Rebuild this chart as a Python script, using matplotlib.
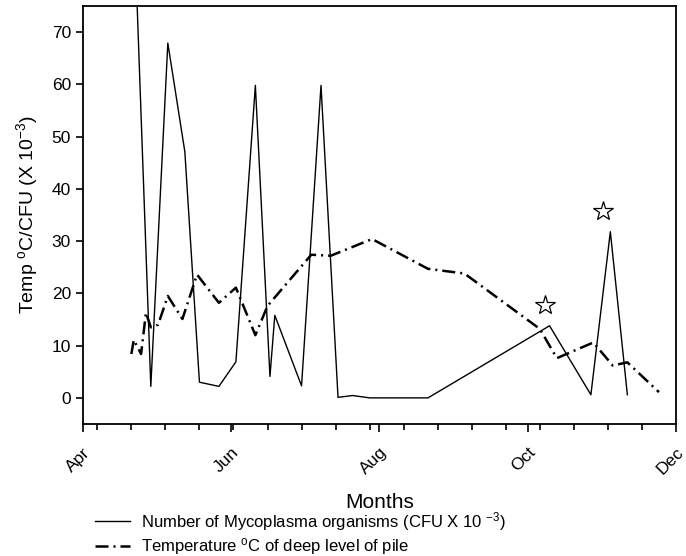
import matplotlib
matplotlib.use("Agg")
import matplotlib.pyplot as plt
import matplotlib.dates as mdates
from matplotlib.lines import Line2D
import pandas as pd

plt.rcParams["font.family"] = ["Liberation Sans", "DejaVu Sans"]
plt.rcParams["mathtext.default"] = "regular"

# Mycoplasma counts (CFU x 10^-3); first value runs off the top of the axis
myco_dates = ["1997-04-23", "1997-04-29", "1997-05-06", "1997-05-13", "1997-05-19",
              "1997-05-27", "1997-06-03", "1997-06-11", "1997-06-17", "1997-06-19",
              "1997-06-30", "1997-07-08", "1997-07-15", "1997-07-21", "1997-07-28",
              "1997-08-21", "1997-10-10", "1997-10-27", "1997-11-04", "1997-11-11"]
myco_vals = [80, 2.2, 67.9, 47.1, 3.0,
             2.2, 6.9, 59.8, 4.1, 15.8,
             2.3, 59.8, 0.1, 0.45, 0.0,
             0.0, 13.8, 0.6, 31.8, 0.6]

# temperature of deep level of pile (deg C)
temp_dates = ["1997-04-21", "1997-04-22", "1997-04-25", "1997-04-27", "1997-04-29",
              "1997-05-02", "1997-05-06", "1997-05-12", "1997-05-18", "1997-05-27",
              "1997-06-03", "1997-06-11", "1997-06-16", "1997-07-04", "1997-07-12",
              "1997-07-29", "1997-08-21", "1997-09-05", "1997-10-06", "1997-10-13",
              "1997-10-28", "1997-11-05", "1997-11-11", "1997-11-24"]
temp_vals = [8.4, 11.1, 8.4, 16.3, 13.5,
             14.0, 19.5, 15.1, 23.6, 18.2,
             21.1, 12.0, 17.6, 27.4, 27.2,
             30.4, 24.7, 23.8, 13.2, 7.6,
             10.6, 6.2, 6.8, 1.1]

star_dates = ["1997-10-08", "1997-11-01"]
star_vals = [17.7, 35.8]

myco_x = pd.to_datetime(myco_dates)
temp_x = pd.to_datetime(temp_dates)
star_x = pd.to_datetime(star_dates)

fig = plt.figure(figsize=(6.86, 5.56), dpi=100)
ax = fig.add_axes([0.1206, 0.2374, 0.8648, 0.7518])

ax.plot(myco_x, myco_vals, color="black", lw=1.0)
temp_line, = ax.plot(temp_x, temp_vals, color="black", lw=1.8)
temp_line.set_dashes((5.2, 2.0, 0.8, 2.0))
ax.plot(star_x, star_vals, linestyle="none", marker="*", markersize=15,
        markerfacecolor="white", markeredgecolor="black", markeredgewidth=0.9)

ax.set_xlim(pd.Timestamp("1997-04-01"), pd.Timestamp("1997-12-01"))
ax.set_ylim(-5, 75)
ax.set_yticks(range(0, 71, 10))

ax.xaxis.set_major_locator(mdates.MonthLocator(bymonth=[4, 6, 8, 10, 12]))
ax.xaxis.set_major_formatter(mdates.DateFormatter("%b"))
minor = pd.date_range("1997-04-07", "1997-12-01", freq="14D")
ax.xaxis.set_minor_locator(matplotlib.ticker.FixedLocator(mdates.date2num(minor)))

ax.tick_params(axis="x", which="major", length=6, width=1.2, labelsize=12.5, pad=9)
ax.tick_params(axis="x", which="minor", length=4, width=1.2)
ax.tick_params(axis="y", length=5, width=1.2, labelsize=12.5)
for lab in ax.get_xticklabels():
    lab.set_rotation(45)
    lab.set_ha("right")
    lab.set_va("top")
    lab.set_rotation_mode("anchor")

for s in ax.spines.values():
    s.set_linewidth(1.3)

ax.set_ylabel(r"Temp $^{o}$C/CFU (X 10$^{-3}$)", fontsize=14, labelpad=8)
ax.set_xlabel("Months", fontsize=15, labelpad=11)

handles = [Line2D([], [], color="black", lw=1.0),
           Line2D([], [], color="black", lw=1.8, dashes=(5.2, 2.0, 0.8, 2.0))]
labels = [r"Number of Mycoplasma organisms (CFU X 10 $^{-3}$)",
          r"Temperature $^{o}$C of deep level of pile"]
fig.legend(handles, labels, loc="upper left", bbox_to_anchor=(0.138, 0.083),
           frameon=False, fontsize=12, handlelength=2.1, handletextpad=0.65,
           labelspacing=0.2, borderaxespad=0, borderpad=0)

fig.savefig("out.png", dpi=100)
